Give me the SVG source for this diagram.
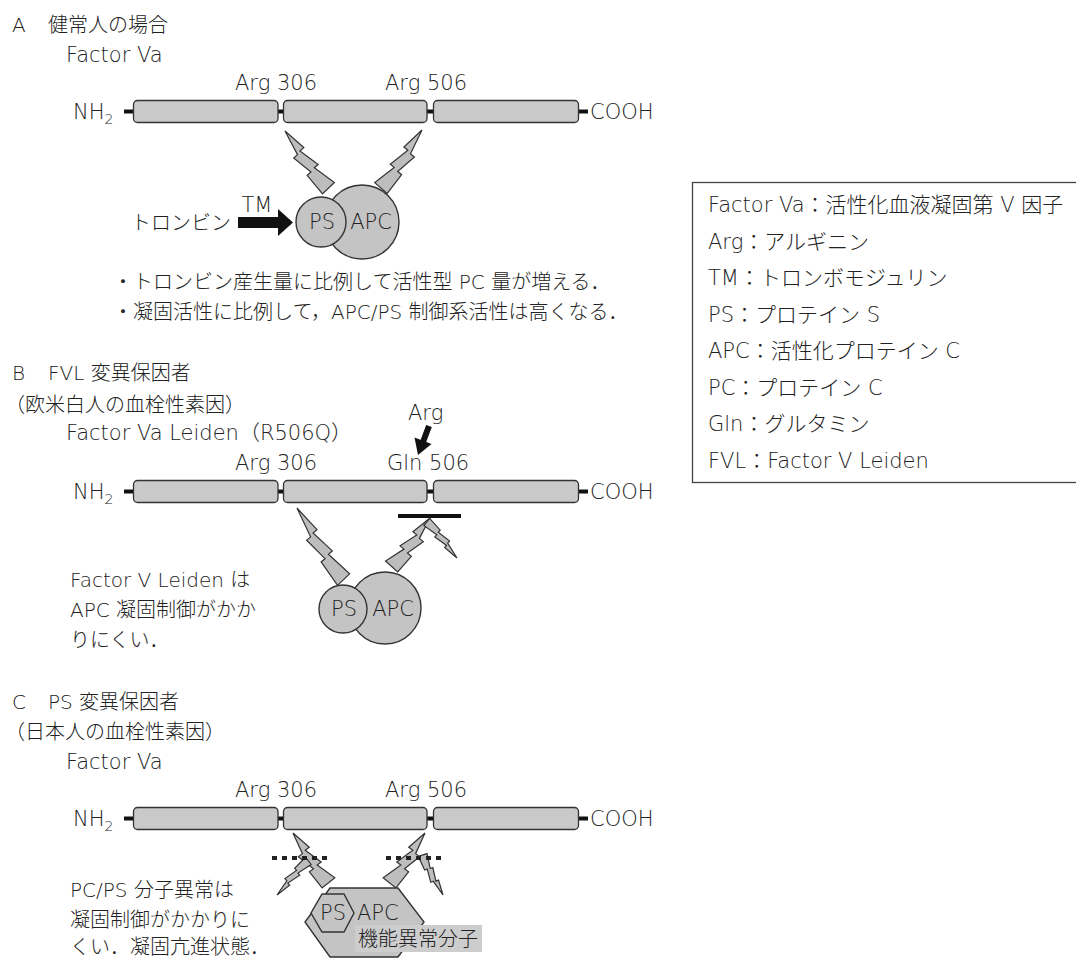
<svg xmlns="http://www.w3.org/2000/svg" xmlns:xlink="http://www.w3.org/1999/xlink" width="1076" height="958" viewBox="0 0 1076 958">
<style>
.t{font-family:"DejaVu Sans","Noto Sans CJK JP",sans-serif;font-size:20px;font-weight:300;fill:#222}
.l{font-family:"DejaVu Sans","Noto Sans CJK JP",sans-serif;font-size:21px;font-weight:300;fill:#222}
.g{font-family:"DejaVu Sans","Noto Sans CJK JP",sans-serif;font-size:21px;font-weight:300;fill:#222}
.seg{fill:#c9c9c9;stroke:#333;stroke-width:1.3}
.link{stroke:#111;stroke-width:4}
.bolt{fill:#bdbdbd;stroke:#333;stroke-width:1.2}
.mol{fill:#c4c4c4;stroke:#333;stroke-width:1.4}
.dot{stroke:#222;stroke-width:4;stroke-dasharray:5 5}
</style>
<defs>
<g id="factorBar">
<line class="link" x1="124" y1="111.5" x2="134" y2="111.5"/>
<line class="link" x1="277" y1="111.5" x2="285" y2="111.5"/>
<line class="link" x1="426" y1="111.5" x2="434" y2="111.5"/>
<line class="link" x1="577" y1="111.5" x2="588" y2="111.5"/>
<rect class="seg" x="133.5" y="100.5" width="144.5" height="22" rx="4"/>
<rect class="seg" x="283.5" y="100.5" width="143.5" height="22" rx="4"/>
<rect class="seg" x="433.5" y="100.5" width="145" height="22" rx="4"/>
</g>
<path id="bolt" vector-effect="non-scaling-stroke" d="M0,0 L8,24 L3,25 L12,46 L7,47 L17,70 L1,74 L-3,50 L2,49 L-6,28 L-1,27 Z"/>
</defs>

<!-- Panel A -->
<g id="panelA-title">
<text class="t" x="12" y="32">A</text>
<text class="t" x="48" y="32">健常人の場合</text>
<text class="l" x="66" y="62">Factor Va</text>
</g>
<g id="barA">
<use xlink:href="#factorBar"/>
<text class="l" x="73" y="119">NH<tspan font-size="14" dy="5">2</tspan></text>
<text class="l" x="590" y="119">COOH</text>
<text class="l" x="235" y="90">Arg 306</text>
<text class="l" x="385" y="90">Arg 506</text>
</g>

<!-- Panel B -->
<g id="panelB-title">
<text class="t" x="12" y="380">B</text>
<text class="t" x="48" y="380">FVL 変異保因者</text>
<text class="t" x="5" y="412">（欧米白人の血栓性素因）</text>
<text class="l" x="66" y="440">Factor Va Leiden（R506Q）</text>
</g>
<g id="barB">
<use xlink:href="#factorBar" transform="translate(0,380)"/>
<text class="l" x="73" y="499">NH<tspan font-size="14" dy="5">2</tspan></text>
<text class="l" x="590" y="499">COOH</text>
<text class="l" x="235" y="470">Arg 306</text>
<text class="l" x="387" y="470">Gln 506</text>
<text class="l" x="408" y="420">Arg</text>
</g>

<!-- Panel C -->
<g id="panelC-title">
<text class="t" x="12" y="709">C</text>
<text class="t" x="48" y="709">PS 変異保因者</text>
<text class="t" x="5" y="739">（日本人の血栓性素因）</text>
<text class="l" x="66" y="769">Factor Va</text>
</g>
<g id="barC">
<use xlink:href="#factorBar" transform="translate(0,707)"/>
<text class="l" x="73" y="826">NH<tspan font-size="14" dy="5">2</tspan></text>
<text class="l" x="590" y="826">COOH</text>
<text class="l" x="235" y="797">Arg 306</text>
<text class="l" x="385" y="797">Arg 506</text>
</g>

<!-- connectors: cleavage bolts, arrows, blocks -->
<g id="connectors">
<use xlink:href="#bolt" class="bolt" transform="translate(285,131) rotate(-30) scale(1,0.99)"/>
<use xlink:href="#bolt" class="bolt" transform="translate(422,130) rotate(28) scale(-1,0.98)"/>
<use xlink:href="#bolt" class="bolt" transform="translate(297,508) rotate(-27) scale(1,1.18)"/>
<use xlink:href="#bolt" class="bolt" transform="translate(430,518) rotate(30) scale(-1,0.85)"/>
<use xlink:href="#bolt" class="bolt" transform="translate(457,558) rotate(146) scale(0.55,0.65)"/>
<use xlink:href="#bolt" class="bolt" transform="translate(293,833) rotate(-27) scale(1,0.84)"/>
<use xlink:href="#bolt" class="bolt" transform="translate(277,895) rotate(-143.6) scale(-0.55,0.64)"/>
<use xlink:href="#bolt" class="bolt" transform="translate(425,833) rotate(27) scale(-1,0.84)"/>
<use xlink:href="#bolt" class="bolt" transform="translate(443,895) rotate(146.7) scale(-0.55,0.62)"/>
<line x1="398" y1="516" x2="461" y2="516" stroke="#111" stroke-width="4"/>
<line class="dot" x1="272" y1="858" x2="332" y2="858"/>
<line class="dot" x1="386" y1="858" x2="446" y2="858"/>
<g id="tm-arrow">
<rect x="238" y="217" width="42" height="11" fill="#111"/>
<polygon points="278,209 293,222.5 278,236" fill="#111"/>
</g>
<g id="arg-arrow">
<line x1="429" y1="426" x2="423" y2="442" stroke="#111" stroke-width="6"/>
<polygon points="418,455 414.5,437.5 431.5,444" fill="#111"/>
</g>
</g>

<!-- Panel A enzyme complex -->
<g id="complexA">
<circle class="mol" cx="362" cy="222" r="37"/>
<circle class="mol" cx="321" cy="222" r="25"/>
<text class="l" x="322" y="229" text-anchor="middle">PS</text>
<text class="l" x="371" y="229" text-anchor="middle">APC</text>
</g>
<g id="thrombinA">
<text class="t" x="231" y="230" text-anchor="end">トロンビン</text>
<text class="l" x="257" y="212" text-anchor="middle">TM</text>
</g>
<g id="notesA">
<text class="t" x="113" y="289">・トロンビン産生量に比例して活性型 PC 量が増える．</text>
<text class="t" x="113" y="319">・凝固活性に比例して，APC/PS 制御系活性は高くなる．</text>
</g>

<!-- Panel B enzyme complex -->
<g id="complexB">
<circle class="mol" cx="385" cy="608" r="36"/>
<circle class="mol" cx="343" cy="609" r="24"/>
<text class="l" x="344" y="616" text-anchor="middle">PS</text>
<text class="l" x="393" y="616" text-anchor="middle">APC</text>
</g>
<g id="notesB">
<text class="t" x="70" y="587">Factor V Leiden は</text>
<text class="t" x="70" y="617">APC 凝固制御がかか</text>
<text class="t" x="70" y="647">りにくい．</text>
</g>

<!-- Panel C enzyme complex -->
<g id="complexC">
<polygon class="mol" points="330,888 398,888 424,922 398,957 330,957 305,922"/>
<polygon class="mol" points="322,894 344,894 354,913 344,932 322,932 311,913"/>
<text class="l" x="333" y="920" text-anchor="middle">PS</text>
<text class="l" x="357" y="920">APC</text>
<rect x="355" y="925" width="127" height="27" fill="#cdcdcd"/>
<text class="t" x="358" y="946">機能異常分子</text>
</g>
<g id="notesC">
<text class="t" x="70" y="897">PC/PS 分子異常は</text>
<text class="t" x="70" y="927">凝固制御がかかりに</text>
<text class="t" x="70" y="954">くい．凝固亢進状態．</text>
</g>

<!-- Legend -->
<g id="legend">
<rect x="692.5" y="182.5" width="400" height="300" fill="none" stroke="#444" stroke-width="1.3"/>
<text class="g" x="708" y="212">Factor Va：活性化血液凝固第 V 因子</text>
<text class="g" x="708" y="248.5">Arg：アルギニン</text>
<text class="g" x="708" y="285">TM：トロンボモジュリン</text>
<text class="g" x="708" y="321.5">PS：プロテイン S</text>
<text class="g" x="708" y="358">APC：活性化プロテイン C</text>
<text class="g" x="708" y="394.5">PC：プロテイン C</text>
<text class="g" x="708" y="431">Gln：グルタミン</text>
<text class="g" x="708" y="467.5">FVL：Factor V Leiden</text>
</g>
</svg>
